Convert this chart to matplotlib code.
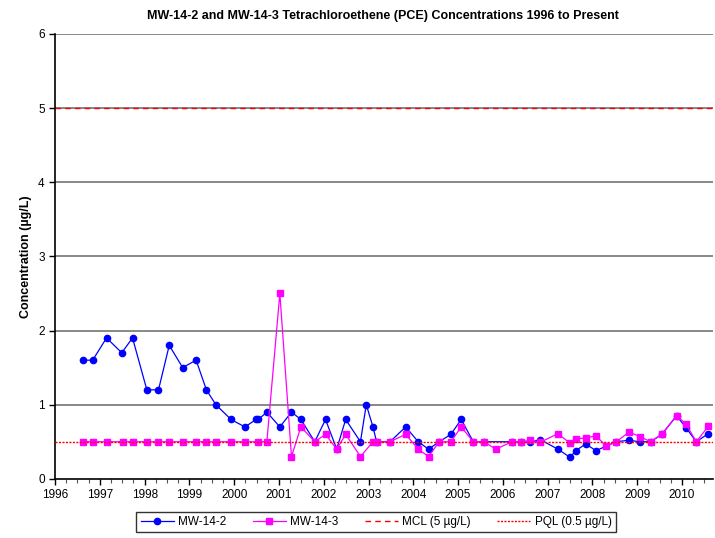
import numpy as np
import matplotlib
matplotlib.use("Agg")
import matplotlib.pyplot as plt
from matplotlib.ticker import MultipleLocator

plt.rcParams['font.family'] = ['Liberation Sans', 'DejaVu Sans']

# --------------- Data (decimal years, ug/L) ---------------
mw142_t = [1996.63, 1996.84, 1997.15, 1997.49, 1997.73, 1998.05, 1998.31, 1998.55,
           1998.85, 1999.15, 1999.38, 1999.59, 1999.93, 2000.24, 2000.49, 2000.54,
           2000.73, 2001.02, 2001.28, 2001.49, 2001.80, 2002.04, 2002.29, 2002.49,
           2002.82, 2002.95, 2003.10, 2003.18, 2003.48, 2003.83, 2004.11, 2004.34,
           2004.58, 2004.84, 2005.07, 2005.34, 2005.58, 2006.21, 2006.40, 2006.60,
           2006.83, 2007.23, 2007.50, 2007.63, 2007.85, 2008.08, 2008.53, 2008.82,
           2009.06, 2009.30, 2009.55, 2009.88, 2010.09, 2010.32, 2010.59]
mw142_c = [1.6, 1.6, 1.9, 1.7, 1.9, 1.2, 1.2, 1.8,
           1.5, 1.6, 1.2, 1.0, 0.8, 0.7, 0.8, 0.8,
           0.9, 0.7, 0.9, 0.8, 0.5, 0.8, 0.4, 0.8,
           0.5, 1.0, 0.7, 0.5, 0.5, 0.7, 0.5, 0.4,
           0.5, 0.6, 0.8, 0.5, 0.5, 0.5, 0.5, 0.49,
           0.53, 0.40, 0.29, 0.38, 0.47, 0.38, 0.5, 0.52,
           0.50, 0.5, 0.60, 0.85, 0.69, 0.5, 0.61]

mw143_t = [1996.63, 1996.84, 1997.16, 1997.51, 1997.73, 1998.05, 1998.31, 1998.55,
           1998.85, 1999.15, 1999.38, 1999.59, 1999.93, 2000.24, 2000.54, 2000.73,
           2001.02, 2001.28, 2001.49, 2001.80, 2002.04, 2002.29, 2002.49, 2002.82,
           2003.10, 2003.18, 2003.48, 2003.83, 2004.11, 2004.34, 2004.58, 2004.84,
           2005.07, 2005.34, 2005.58, 2005.84, 2006.21, 2006.40, 2006.61, 2006.83,
           2007.23, 2007.50, 2007.63, 2007.85, 2008.08, 2008.31, 2008.53, 2008.82,
           2009.06, 2009.30, 2009.55, 2009.88, 2010.09, 2010.32, 2010.59]
mw143_c = [0.5, 0.5, 0.5, 0.5, 0.5, 0.5, 0.5, 0.5,
           0.5, 0.5, 0.5, 0.5, 0.5, 0.5, 0.5, 0.5,
           2.5, 0.3, 0.7, 0.5, 0.6, 0.4, 0.6, 0.3,
           0.5, 0.5, 0.5, 0.6, 0.4, 0.3, 0.5, 0.5,
           0.7, 0.5, 0.5, 0.4, 0.5, 0.5, 0.52, 0.49,
           0.61, 0.48, 0.54, 0.55, 0.58, 0.44, 0.5, 0.63,
           0.57, 0.50, 0.60, 0.85, 0.74, 0.5, 0.71]

mcl = 5.0
pql = 0.5
x_min, x_max = 1996, 2010.69
years = list(range(1996, 2011))

# --------------- Figure ---------------
fig = plt.figure(figsize=(7.15, 5.38), dpi=100)
ax = fig.add_axes([0.077, 0.110, 0.920, 0.827])

for yv in range(1, 7):
    ax.axhline(yv, color='#7f7f7f', linewidth=1.3, zorder=1)

ax.plot(mw142_t, mw142_c, color='#0000ff', marker='o', markersize=4.5,
        linewidth=0.9, label='MW-14-2', zorder=3)
ax.plot(mw143_t, mw143_c, color='#ff00ff', marker='s', markersize=4.5,
        linewidth=0.9, label='MW-14-3', zorder=4)
ax.plot([x_min, x_max], [mcl, mcl], color='#ff0000', linestyle=(0, (4, 3)),
        linewidth=1, label=u'MCL (5 \u00b5g/L)', zorder=2)
ax.plot([x_min, x_max], [pql, pql], color='#ff0000', linestyle=(0, (1.5, 1)),
        linewidth=1, label=u'PQL (0.5 \u00b5g/L)', zorder=5)

ax.set_xlim(x_min, x_max)
ax.set_ylim(0, 6)
ax.set_xticks(years)
ax.set_xticklabels([str(y) for y in years])
ax.xaxis.set_minor_locator(MultipleLocator(0.25))
ax.set_yticks(range(0, 7))
ax.tick_params(axis='both', which='major', direction='out', length=4,
               labelsize=8.5, width=1)
ax.tick_params(axis='x', which='minor', direction='out', length=3, width=0.8,
               color='#555555')

for side in ['top', 'right']:
    ax.spines[side].set_visible(False)
ax.spines['left'].set_linewidth(1.2)
ax.spines['bottom'].set_linewidth(1.2)

ax.set_ylabel(u'Concentration (\u00b5g/L)', fontsize=9, fontweight='bold')
fig.suptitle('MW-14-2 and MW-14-3 Tetrachloroethene (PCE) Concentrations 1996 to Present',
             fontsize=9, fontweight='bold', x=0.535, y=0.982)

leg = fig.legend(loc='lower center', bbox_to_anchor=(0.526, 0.0), ncol=4,
                 fontsize=8.5, frameon=True, fancybox=False, edgecolor='black',
                 handlelength=2.8, handletextpad=0.4, columnspacing=2.2,
                 borderpad=0.35)
leg.get_frame().set_linewidth(1)

fig.savefig('out.png', dpi=100)
